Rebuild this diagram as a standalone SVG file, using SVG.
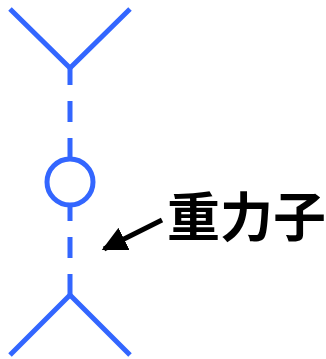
<svg xmlns="http://www.w3.org/2000/svg" width="326" height="359" viewBox="0 0 326 359">
<defs>
<style>
.ln{stroke:#3366ff;stroke-width:5;fill:none}
.dash{stroke-dasharray:21 16}
.lbl{font-family:"Noto Sans CJK SC","Noto Sans CJK JP",sans-serif;font-weight:bold;font-size:53px;fill:#000}
</style>
<marker id="ah" viewBox="0 0 10 10" refX="9" refY="5" markerWidth="5" markerHeight="5" orient="auto" markerUnits="strokeWidth">
<path d="M0,0 L10,5 L0,10 z" fill="#000"/>
</marker>
</defs>
<g id="top-vertex">
<path class="ln" d="M10,9 L70,68 L130,9"/>
</g>
<g id="bottom-vertex">
<path class="ln" d="M10,355 L70,295 L130,355"/>
</g>
<g id="loop">
<circle class="ln" cx="70" cy="182" r="23"/>
</g>
<g id="connectors">
<line class="ln dash" x1="70" y1="159" x2="70" y2="68"/>
<line class="ln dash" x1="70" y1="295" x2="70" y2="205"/>
<line x1="162" y1="220" x2="104" y2="249" stroke="#000" stroke-width="5" marker-end="url(#ah)"/>
</g>
<g id="label">
<text class="lbl" x="167" y="237">重力子</text>
</g>
</svg>
